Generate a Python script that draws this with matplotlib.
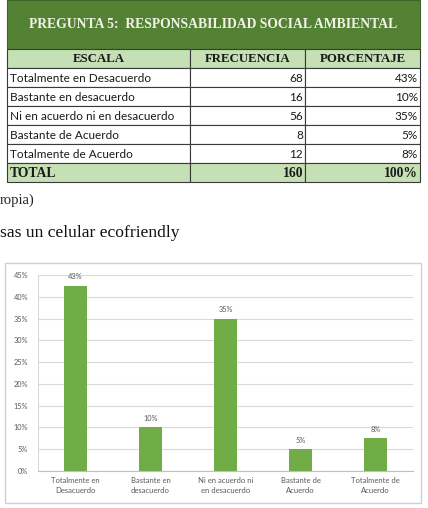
import matplotlib
matplotlib.use("Agg")
import matplotlib.pyplot as plt
from matplotlib.patches import Rectangle

# table data
titulo_tabla = "PREGUNTA 5:  RESPONSABILIDAD SOCIAL AMBIENTAL"
encabezados = ["ESCALA", "FRECUENCIA", "PORCENTAJE"]
escala = ["Totalmente en Desacuerdo", "Bastante en desacuerdo",
          "Ni en acuerdo ni en desacuerdo", "Bastante de Acuerdo",
          "Totalmente de Acuerdo"]
frecuencia = [68, 16, 56, 8, 12]
porcentaje_tabla = ["43%", "10%", "35%", "5%", "8%"]
total = ["TOTAL", "160", "100%"]

# chart data
categorias = ["Totalmente en\nDesacuerdo", "Bastante en\ndesacuerdo",
              "Ni en acuerdo ni\nen desacuerdo", "Bastante de\nAcuerdo",
              "Totalmente de\nAcuerdo"]
porcentajes = [42.5, 10, 35, 5, 7.5]
etiquetas = ["43%", "10%", "35%", "5%", "8%"]
yticks = [0, 5, 10, 15, 20, 25, 30, 35, 40, 45]

verde_osc = "#548235"
verde_cla = "#C5E0B4"
verde_bar = "#70AD47"
gris = "#595959"

fig = plt.figure(figsize=(4.28, 5.08), dpi=100)

# page layer in pixel units
lay = fig.add_axes([0, 0, 1, 1], zorder=0)
lay.set_xlim(0, 428)
lay.set_ylim(508, 0)
lay.axis("off")

cols = [7, 190, 305, 420]
lay.add_patch(Rectangle((cols[0], 0), cols[-1] - cols[0], 49, fc=verde_osc, ec="#3F6327", lw=0.8))
lay.text((cols[0] + cols[-1]) / 2, 25, titulo_tabla, family="Liberation Serif",
         weight="bold", size=9.8, color="#F2F2E6", ha="center", va="center")

filas = [encabezados] + [[e, str(f), p] for e, f, p in zip(escala, frecuencia, porcentaje_tabla)] + [total]
tops = [49] + [68 + 19 * i for i in range(6)]
for r, fila in enumerate(filas):
    top = tops[r]
    h = 19
    es_color = r == 0 or r == len(filas) - 1
    for c in range(3):
        lay.add_patch(Rectangle((cols[c], top), cols[c + 1] - cols[c], h,
                                fc=verde_cla if es_color else "white", ec="#3A3A3A", lw=0.8))
    yc = top + h / 2 + 1
    if r == 0:
        for c, txt in enumerate(fila):
            lay.text((cols[c] + cols[c + 1]) / 2, yc, txt, family="Liberation Serif",
                     weight="bold", size=9.3, color="#1A1A1A", ha="center", va="center")
    elif r == len(filas) - 1:
        lay.text(cols[0] + 3, yc, fila[0], family="Liberation Serif", weight="bold",
                 size=9.8, color="#1A1A1A", va="center")
        for c in (1, 2):
            lay.text(cols[c + 1] - 2, yc, fila[c], family="Liberation Serif", weight="bold",
                     size=9.8, color="#1A1A1A", ha="right", va="center")
    else:
        lay.text(cols[0] + 3, yc, fila[0], family="Lato", size=8.5, color="#1A1A1A", va="center")
        for c in (1, 2):
            lay.text(cols[c + 1] - 2, yc, fila[c], family="Lato", size=8.5,
                     color="#1A1A1A", ha="right", va="center")

lay.text(0, 200, "ropia)", family="Liberation Serif", size=10.5, color="#222222", va="center")
lay.text(0, 233, "sas un celular ecofriendly", family="Liberation Serif", size=12.6,
         color="#111111", va="center")

# chart box
lay.add_patch(Rectangle((5, 263), 416, 240, fill=False, ec="#D0D0D0", lw=1))

# bar chart
ax = fig.add_axes([38 / 428, 37 / 508, 375 / 428, 196 / 508], zorder=1)
ax.patch.set_alpha(0)
x = list(range(len(categorias)))
ax.bar(x, porcentajes, width=0.31, color=verde_bar, zorder=2)
for xi, v, lab in zip(x, porcentajes, etiquetas):
    ax.annotate(lab, (xi, v), xytext=(0, 4), textcoords="offset points",
                ha="center", va="bottom", fontsize=5.3, color=gris, family="Lato")
ax.set_xlim(-0.5, len(categorias) - 0.5)
ax.set_ylim(0, 45)
ax.set_yticks(yticks)
ax.set_yticklabels([f"{t}%" for t in yticks], fontsize=5.3, color=gris, family="Lato")
ax.set_xticks(x)
ax.set_xticklabels(categorias, fontsize=5.5, color=gris, family="Lato", linespacing=1.6)
ax.yaxis.grid(True, color="#D9D9D9", lw=0.8)
ax.set_axisbelow(True)
ax.tick_params(axis="both", length=0)
ax.tick_params(axis="y", pad=7)
ax.tick_params(axis="x", pad=4)
for s in ("top", "right"):
    ax.spines[s].set_visible(False)
ax.spines["left"].set_color("#D9D9D9")
ax.spines["bottom"].set_color("#BFBFBF")

fig.savefig("out.png", dpi=100)
